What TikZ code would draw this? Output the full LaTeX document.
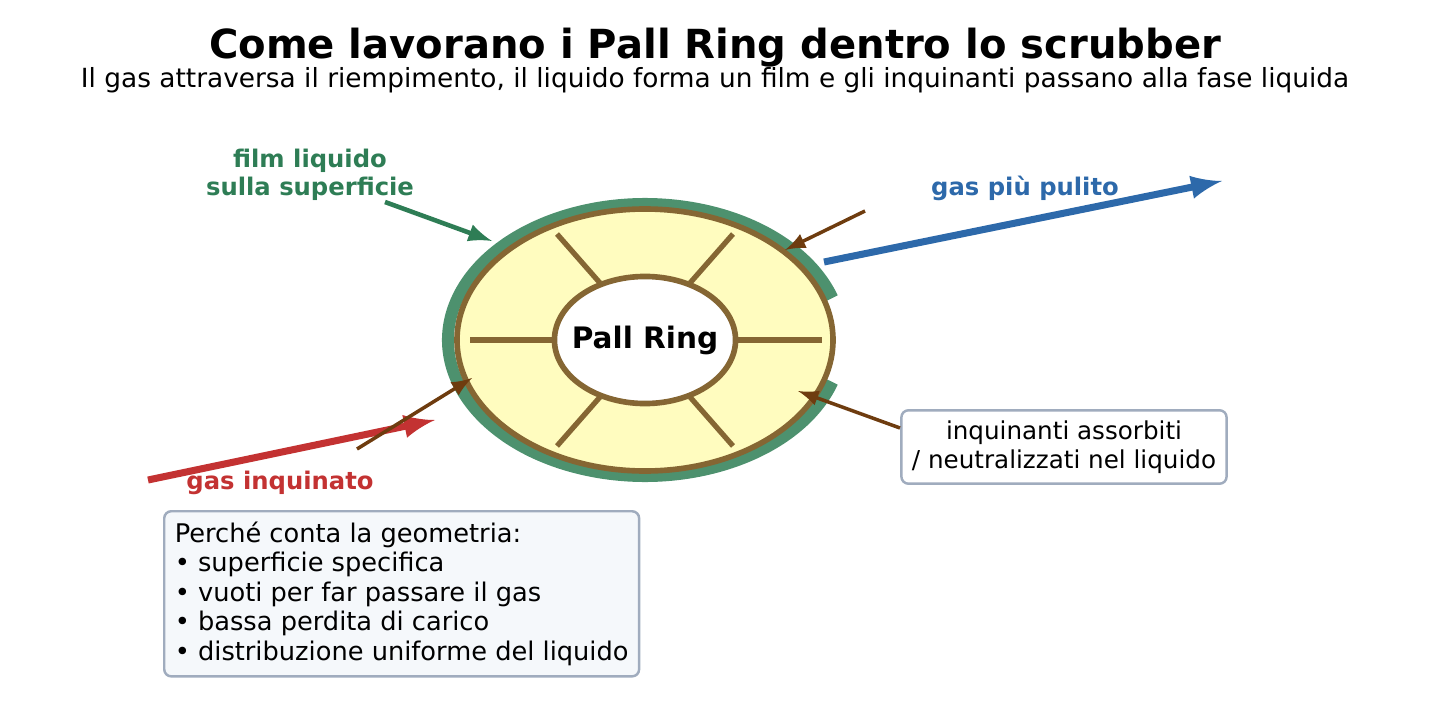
\documentclass[tikz,border=0pt]{standalone}
\usepackage{fontspec}
\setmainfont{DejaVu Sans}
\usetikzlibrary{positioning,shapes.geometric}
\tikzset{>=latex}
\definecolor{filmgreen}{RGB}{46,125,85}
\definecolor{ringbrown}{RGB}{133,102,51}
\definecolor{arrbrown}{RGB}{110,60,15}
\definecolor{gasblue}{RGB}{45,105,170}
\definecolor{gasred}{RGB}{195,50,50}
\definecolor{boxedge}{RGB}{160,172,190}
\definecolor{boxfill}{RGB}{245,248,251}
\tikzset{
  lbl/.style={font=\fontsize{6.9}{8}\selectfont\bfseries, align=center},
  note/.style={draw=boxedge, rounded corners=2pt, fill=white, line width=0.7pt, font=\fontsize{7}{8.1}\selectfont},
  spoke/.style={ringbrown, line width=1.5pt},
  toring/.style={->, arrbrown, line width=1pt}
}
\begin{document}
\begin{tikzpicture}[x=0.01cm, y=-0.01cm]
  \useasboundingbox (0,0) rectangle (1430,703);
  % titles
  \node[font=\fontsize{11.4}{13}\selectfont\bfseries] (title) at (715,48) {Come lavorano i Pall Ring dentro lo scrubber};
  \node[font=\fontsize{7.5}{9}\selectfont] (sub) at (715,80) {Il gas attraversa il riempimento, il liquido forma un film e gli inquinanti passano alla fase liquida};
  % ring
  \draw[filmgreen!85!white, line width=3.4pt] (645,340) ++(18:197 and 136) arc[start angle=18, end angle=342, x radius=197, y radius=136];
  \draw[ringbrown, line width=1.6pt, fill=yellow!25!white] (645,340) ellipse[x radius=188, y radius=131];
  \foreach \a/\b/\c/\d in {470/340/555/340, 736/340/822/340, 557/234/600/283, 733/234/690/283, 557/446/600/397, 733/446/690/397}
    \draw[spoke] (\a,\b) -- (\c,\d);
  \node[draw=ringbrown, line width=1.6pt, fill=white, ellipse, minimum width=1.81cm, minimum height=1.27cm, inner sep=0pt] (ring) at (645,340) {};
  \node[font=\fontsize{8.4}{10}\selectfont\bfseries] at (ring) {Pall Ring};
  % labels
  \node[lbl, text=filmgreen] (film) at (310,175) {film liquido\\sulla superficie};
  \node[lbl, text=gasblue] (clean) at (1025,188) {gas più pulito};
  \node[lbl, text=gasred] (dirty) at (280,483) {gas inquinato};
  \node[note, inner sep=3pt, align=center] (abs) at (1064,447) {inquinanti assorbiti\\/ neutralizzati nel liquido};
  \node[note, font=\fontsize{7.3}{8.4}\selectfont, fill=boxfill, inner sep=3pt, align=left, anchor=north west] (geo) at (163,510) {Perché conta la geometria:\\• superficie specifica\\• vuoti per far passare il gas\\• bassa perdita di carico\\• distribuzione uniforme del liquido};
  % arrows
  \coordinate (filmA) at (385,202);
  \coordinate (filmB) at (492,241);
  \draw[->, filmgreen, line width=1.3pt] (filmA) -- (filmB);
  \coordinate (topA) at (865,211);
  \coordinate (topB) at (785,250);
  \draw[toring] (topA) -- (topB);
  \coordinate (outA) at (824,262);
  \coordinate (outB) at (1222,181);
  \draw[->, gasblue, line width=2pt] (outA) -- (outB);
  \coordinate (inA) at (148,480);
  \coordinate (inB) at (435,420);
  \draw[->, gasred, line width=2pt] (inA) -- (inB);
  \coordinate (botA) at (357,449);
  \coordinate (botB) at (472,378);
  \draw[toring] (botA) -- (botB);
  \coordinate (absA) at (900,428);
  \coordinate (absB) at (798,391);
  \draw[toring] (absA) -- (absB);
\end{tikzpicture}
\end{document}
